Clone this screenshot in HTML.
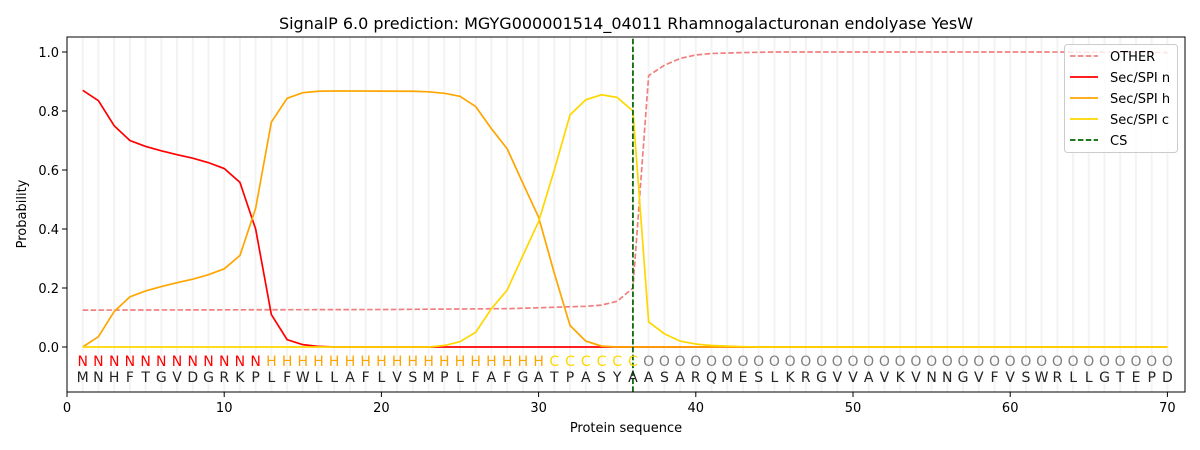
<!DOCTYPE html>
<html><head><meta charset="utf-8"><style>html,body{margin:0;padding:0;background:#fff}svg{display:block}text{font-family:"DejaVu Sans","Liberation Sans",sans-serif}</style></head>
<body>
<svg width="1200" height="450" viewBox="0 0 1200 450" xmlns="http://www.w3.org/2000/svg">
<rect width="1200" height="450" fill="#fff"/>
<text x="626" y="29" font-size="16" text-anchor="middle">SignalP 6.0 prediction: MGYG000001514_04011 Rhamnogalacturonan endolyase YesW</text>
<g transform="translate(67,347) scale(15.72,-295)" fill="none">
<path vector-effect="non-scaling-stroke" stroke="#f3f3f3" stroke-width="2" d="M1 -0.15V1.05M2 -0.15V1.05M3 -0.15V1.05M4 -0.15V1.05M5 -0.15V1.05M6 -0.15V1.05M7 -0.15V1.05M8 -0.15V1.05M9 -0.15V1.05M10 -0.15V1.05M11 -0.15V1.05M12 -0.15V1.05M13 -0.15V1.05M14 -0.15V1.05M15 -0.15V1.05M16 -0.15V1.05M17 -0.15V1.05M18 -0.15V1.05M19 -0.15V1.05M20 -0.15V1.05M21 -0.15V1.05M22 -0.15V1.05M23 -0.15V1.05M24 -0.15V1.05M25 -0.15V1.05M26 -0.15V1.05M27 -0.15V1.05M28 -0.15V1.05M29 -0.15V1.05M30 -0.15V1.05M31 -0.15V1.05M32 -0.15V1.05M33 -0.15V1.05M34 -0.15V1.05M35 -0.15V1.05M36 -0.15V1.05M37 -0.15V1.05M38 -0.15V1.05M39 -0.15V1.05M40 -0.15V1.05M41 -0.15V1.05M42 -0.15V1.05M43 -0.15V1.05M44 -0.15V1.05M45 -0.15V1.05M46 -0.15V1.05M47 -0.15V1.05M48 -0.15V1.05M49 -0.15V1.05M50 -0.15V1.05M51 -0.15V1.05M52 -0.15V1.05M53 -0.15V1.05M54 -0.15V1.05M55 -0.15V1.05M56 -0.15V1.05M57 -0.15V1.05M58 -0.15V1.05M59 -0.15V1.05M60 -0.15V1.05M61 -0.15V1.05M62 -0.15V1.05M63 -0.15V1.05M64 -0.15V1.05M65 -0.15V1.05M66 -0.15V1.05M67 -0.15V1.05M68 -0.15V1.05M69 -0.15V1.05M70 -0.15V1.05"/>
<polyline vector-effect="non-scaling-stroke" stroke="#f08080" stroke-width="1.7" stroke-dasharray="5.5,2.4" points="1,0.125 10,0.126 20,0.127 28,0.13 30,0.133 33,0.138 34,0.142 35,0.155 36,0.2 37,0.92 38,0.955 39,0.978 40,0.99 41,0.995 43,0.998 45,1 62,1 70,0.998"/>
<polyline vector-effect="non-scaling-stroke" stroke="#ff0000" stroke-width="1.7" points="1,0.87 2,0.835 3,0.75 4,0.7 5,0.68 6,0.665 7,0.652 8,0.64 9,0.625 10,0.605 11,0.558 12,0.4 13,0.11 14,0.025 15,0.008 16,0.002 17,0 70,0"/>
<polyline vector-effect="non-scaling-stroke" stroke="#ffa500" stroke-width="1.7" points="1,0 2,0.035 3,0.12 4,0.17 5,0.19 6,0.205 7,0.218 8,0.23 9,0.245 10,0.265 11,0.31 12,0.47 13,0.762 14,0.843 15,0.862 16,0.867 17,0.868 22,0.867 23,0.865 24,0.86 25,0.85 26,0.815 27,0.74 28,0.672 29,0.555 30,0.44 31,0.25 32,0.073 33,0.02 34,0.003 35,0 70,0"/>
<polyline vector-effect="non-scaling-stroke" stroke="#ffd700" stroke-width="1.7" points="1,0 23,0 24,0.005 25,0.018 26,0.05 27,0.13 28,0.193 29,0.31 30,0.425 31,0.6 32,0.787 33,0.838 34,0.855 35,0.846 36,0.8 37,0.085 38,0.045 39,0.02 40,0.01 41,0.005 42,0.003 43,0.001 44,0 70,0"/>
<path vector-effect="non-scaling-stroke" stroke="#006400" stroke-width="1.7" stroke-dasharray="5.5,2.4" d="M36 -0.152V1.05"/>
</g>
<rect x="67" y="37" width="1118" height="355" fill="none" stroke="#000" stroke-width="1"/>
<g stroke="#000">
<path d="M62 347H67M62 288H67M62 229H67M62 170H67M62 111H67M62 52H67"/>
<path d="M67 392V397M224.2 392V397M381.4 392V397M538.6 392V397M695.8 392V397M853 392V397M1010.2 392V397M1167.4 392V397"/>
</g>
<g font-size="13" text-anchor="end">
<text x="59" y="352">0.0</text><text x="59" y="293">0.2</text><text x="59" y="234">0.4</text><text x="59" y="175">0.6</text><text x="59" y="116">0.8</text><text x="59" y="57">1.0</text>
</g>
<g font-size="13" text-anchor="middle">
<text x="67" y="412">0</text><text x="224.2" y="412">10</text><text x="381.4" y="412">20</text><text x="538.6" y="412">30</text><text x="695.8" y="412">40</text><text x="853" y="412">50</text><text x="1010.2" y="412">60</text><text x="1167.4" y="412">70</text>
<text x="626" y="432">Protein sequence</text>
<text transform="translate(26,214) rotate(-90)">Probability</text>
</g>
<g font-size="14" text-anchor="middle">
<text y="366" fill="#ff0000" x="82.7 98.4 114.2 129.9 145.6 161.3 177.0 192.8 208.5 224.2 239.9 255.6">NNNNNNNNNNNN</text>
<text y="366" fill="#ffa500" x="271.4 287.1 302.8 318.5 334.2 350.0 365.7 381.4 397.1 412.8 428.6 444.3 460.0 475.7 491.4 507.2 522.9 538.6">HHHHHHHHHHHHHHHHHH</text>
<text y="366" fill="#ffd700" x="554.3 570.0 585.8 601.5 617.2 632.9">CCCCCC</text>
<text y="366" fill="#808080" x="648.6 664.4 680.1 695.8 711.5 727.2 743.0 758.7 774.4 790.1 805.8 821.6 837.3 853.0 868.7 884.4 900.2 915.9 931.6 947.3 963.0 978.8 994.5 1010.2 1025.9 1041.6 1057.4 1073.1 1088.8 1104.5 1120.2 1136.0 1151.7 1167.4">OOOOOOOOOOOOOOOOOOOOOOOOOOOOOOOOOO</text>
<text y="382" fill="#222" x="82.7 98.4 114.2 129.9 145.6 161.3 177.0 192.8 208.5 224.2 239.9 255.6 271.4 287.1 302.8 318.5 334.2 350.0 365.7 381.4 397.1 412.8 428.6 444.3 460.0 475.7 491.4 507.2 522.9 538.6 554.3 570.0 585.8 601.5 617.2 632.9 648.6 664.4 680.1 695.8 711.5 727.2 743.0 758.7 774.4 790.1 805.8 821.6 837.3 853.0 868.7 884.4 900.2 915.9 931.6 947.3 963.0 978.8 994.5 1010.2 1025.9 1041.6 1057.4 1073.1 1088.8 1104.5 1120.2 1136.0 1151.7 1167.4">MNHFTGVDGRKPLFWLLAFLVSMPLFAFGATPASYAASARQMESLKRGVVAVKVNNGVFVSWRLLGTEPD</text>
</g>
<rect x="1064.5" y="44.5" width="113" height="108" rx="3" fill="#fff" fill-opacity="0.8" stroke="#ccc"/>
<g stroke-width="1.7">
<path d="M1070 56H1098" stroke="#f08080" stroke-dasharray="5.5,2.4"/>
<path d="M1070 77H1098" stroke="#ff0000"/>
<path d="M1070 98H1098" stroke="#ffa500"/>
<path d="M1070 119H1098" stroke="#ffd700"/>
<path d="M1070 140H1098" stroke="#006400" stroke-dasharray="5.5,2.4"/>
</g>
<g font-size="13">
<text x="1110" y="61">OTHER</text><text x="1110" y="82">Sec/SPI n</text><text x="1110" y="103">Sec/SPI h</text><text x="1110" y="124">Sec/SPI c</text><text x="1110" y="145">CS</text>
</g>
</svg>
</body></html>
